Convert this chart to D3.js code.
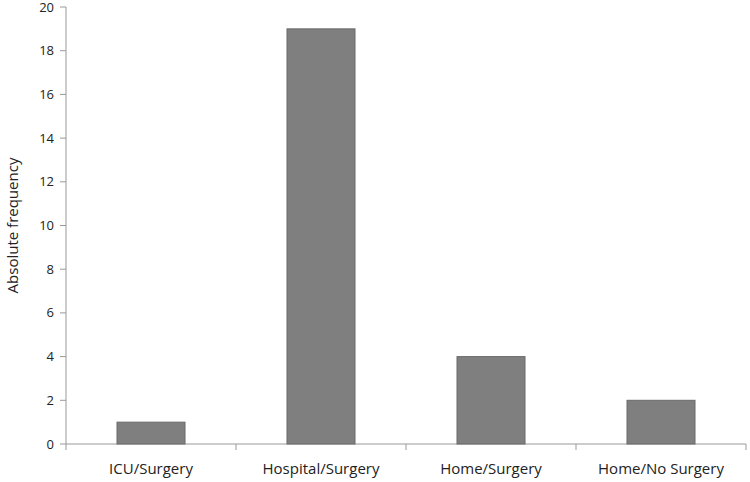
<!DOCTYPE html>
<html><head><meta charset="utf-8">
<script src="https://cdn.jsdelivr.net/npm/d3@7"></script>
<style>body{margin:0;background:#fff}text{font-family:"Open Sans",sans-serif;fill:#222}</style>
</head><body><svg id="c" width="750" height="482"></svg>
<script>
const categories = ["ICU/Surgery", "Hospital/Surgery", "Home/Surgery", "Home/No Surgery"];
const values = [1, 19, 4, 2];
const yTicks = [0, 2, 4, 6, 8, 10, 12, 14, 16, 18, 20];

const svg = d3.select("#c");
const mLeft = 66, mRight = 746, mTop = 7, mBottom = 444;

const x = d3.scaleBand().domain(categories).range([mLeft, mRight]).paddingInner(0.6).paddingOuter(0.3);
const y = d3.scaleLinear().domain([0, 20]).range([mBottom, mTop]);

const grey = "#999";
// y axis
svg.append("line").attr("x1", mLeft).attr("x2", mLeft).attr("y1", mTop).attr("y2", mBottom).attr("stroke", grey);
yTicks.forEach(t => {
  svg.append("line").attr("x1", mLeft - 6).attr("x2", mLeft).attr("y1", y(t)).attr("y2", y(t)).attr("stroke", grey);
  svg.append("text").attr("x", mLeft - 12).attr("y", y(t)).attr("dy", "0.35em")
    .attr("text-anchor", "end").style("font-size", "13px").text(t);
});
// x axis
svg.append("line").attr("x1", mLeft).attr("x2", mRight).attr("y1", mBottom).attr("y2", mBottom).attr("stroke", grey);
const step = (mRight - mLeft) / categories.length;
d3.range(categories.length + 1).forEach(i => {
  const xx = mLeft + i * step;
  svg.append("line").attr("x1", xx).attr("x2", xx).attr("y1", mBottom).attr("y2", mBottom + 6).attr("stroke", grey);
});

svg.selectAll("rect").data(values).enter().append("rect")
  .attr("x", (d, i) => x(categories[i]))
  .attr("width", x.bandwidth())
  .attr("y", d => y(d))
  .attr("height", d => mBottom - y(d))
  .attr("fill", "#7f7f7f").attr("stroke", "#6a6a6a");

categories.forEach(c => {
  svg.append("text").attr("x", x(c) + x.bandwidth() / 2).attr("y", 474)
    .attr("text-anchor", "middle").style("font-size", "15px").text(c);
});

svg.append("text").attr("transform", `translate(18,${(mTop + mBottom) / 2}) rotate(-90)`)
  .attr("text-anchor", "middle").style("font-size", "15px").text("Absolute frequency");
</script></body></html>
